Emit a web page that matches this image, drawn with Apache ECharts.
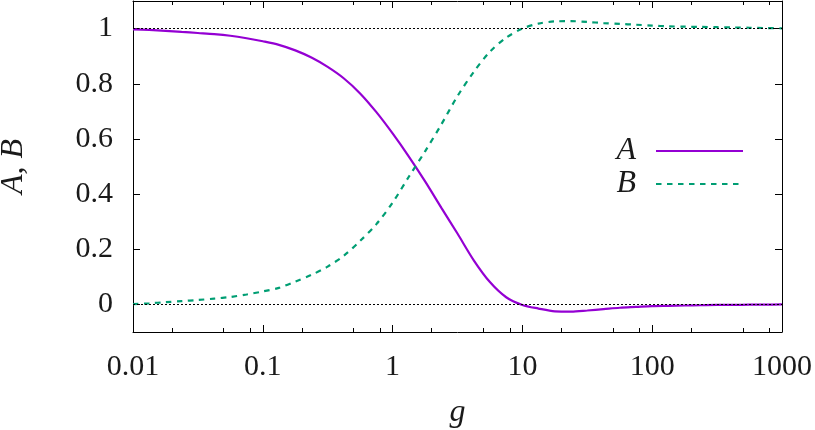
<!DOCTYPE html>
<html lang="en">

<head>
  <meta charset="UTF-8">
  <title>A, B vs g</title>
  <style>
    html,
    body {
      width: 100%;
      height: 100%;
      padding: 0;
      margin: 0;
      background: #fff;
    }

    #eChart {
      width: 815px;
      height: 430px;
    }
  </style>
</head>

<body>
  <div id="eChart"></div>

  <script src="https://cdn.jsdelivr.net/npm/echarts@6/dist/echarts.min.js"></script>
  <script>
    // values (eight samples per decade of g)
    var gVals = [0.01, 0.0133, 0.0178, 0.0237, 0.0316, 0.0422, 0.0562, 0.075,
      0.1, 0.133, 0.178, 0.237, 0.316, 0.422, 0.562, 0.75,
      1, 1.33, 1.78, 2.37, 3.16, 4.22, 5.62, 7.5,
      10, 13.3, 17.8, 23.7, 31.6, 42.2, 56.2, 75,
      100, 133, 178, 237, 316, 422, 562, 750, 1000];
    var aVals = [0.997, 0.995, 0.992, 0.988, 0.984, 0.980, 0.974, 0.965,
      0.954, 0.941, 0.921, 0.895, 0.861, 0.819, 0.765, 0.697,
      0.620, 0.537, 0.446, 0.351, 0.257, 0.160, 0.081, 0.026,
      -0.002, -0.015, -0.025, -0.026, -0.022, -0.017, -0.012, -0.009,
      -0.006, -0.005, -0.004, -0.003, -0.002, -0.002, -0.001, -0.001, 0.000];
    var bVals = [0.001, 0.004, 0.008, 0.012, 0.016, 0.021, 0.027, 0.036,
      0.047, 0.060, 0.083, 0.107, 0.137, 0.177, 0.230, 0.291,
      0.369, 0.462, 0.555, 0.652, 0.755, 0.843, 0.916, 0.967,
      1.000, 1.018, 1.026, 1.027, 1.024, 1.020, 1.017, 1.014,
      1.011, 1.008, 1.007, 1.006, 1.005, 1.004, 1.003, 1.002, 1.001];

    var xMajorTicks = [0.01, 0.1, 1, 10, 100, 1000];
    var xMinorTicks = [0.02, 0.05, 0.08, 0.2, 0.5, 0.8, 2, 5, 8, 20, 50, 80, 200, 500, 800];
    var yTicks = [0, 0.2, 0.4, 0.6, 0.8, 1];

    var font = "'Liberation Serif', 'DejaVu Serif', serif";
    var ink = '#1a1a1a';

    function pairs(ys) {
      return gVals.map(function (g, i) { return [g, ys[i]]; });
    }

    function xAxisOf(pos, ticks, len, showLine, showLabel) {
      return {
        type: 'log',
        logBase: 10,
        min: 0.01,
        max: 1000,
        position: pos,
        axisLine: { show: showLine, onZero: false, lineStyle: { color: '#000', width: 1 } },
        axisTick: { show: true, inside: true, length: len, customValues: ticks, lineStyle: { color: '#000', width: 1 } },
        axisLabel: {
          show: showLabel,
          customValues: ticks,
          margin: 20,
          fontFamily: font,
          fontSize: 30,
          color: ink,
          formatter: function (v) { return String(v); }
        },
        splitLine: { show: false },
        minorTick: { show: false }
      };
    }

    function yAxisOf(pos, showLabel) {
      return {
        type: 'value',
        min: -0.1,
        max: 1.1,
        position: pos,
        axisLine: { show: true, onZero: false, lineStyle: { color: '#000', width: 1 } },
        axisTick: { show: true, inside: true, length: 7, customValues: yTicks, lineStyle: { color: '#000', width: 1 } },
        axisLabel: {
          show: showLabel,
          customValues: yTicks,
          margin: 20,
          fontFamily: font,
          fontSize: 30,
          color: ink,
          formatter: function (v) { return String(v); }
        },
        splitLine: { show: false }
      };
    }

    var xBottom = xAxisOf('bottom', xMajorTicks, 7, true, true);
    xBottom.name = 'g';
    xBottom.nameLocation = 'middle';
    xBottom.nameGap = 65;
    xBottom.nameTextStyle = { fontFamily: font, fontStyle: 'italic', fontSize: 32, color: ink };

    var yLeft = yAxisOf('left', true);
    yLeft.name = 'A, B';
    yLeft.nameLocation = 'middle';
    yLeft.nameGap = 103;
    yLeft.nameTextStyle = { fontFamily: font, fontStyle: 'italic', fontSize: 32, color: ink };

    var myChart = echarts.init(document.getElementById('eChart'), null, { renderer: 'canvas' });

    myChart.setOption({
      animation: false,
      backgroundColor: '#fff',
      grid: { left: 133, right: 33, top: 1, bottom: 98, outerBoundsMode: 'none' },
      legend: {
        orient: 'vertical',
        right: 66,
        top: 130,
        align: 'right',
        itemWidth: 87,
        itemHeight: 14,
        itemGap: 1,
        itemStyle: { opacity: 0 },
        textStyle: { fontFamily: font, fontStyle: 'italic', fontSize: 32, lineHeight: 32, color: ink, padding: [0, 15, 0, 0] },
        data: ['A', 'B']
      },
      xAxis: [
        xBottom,
        xAxisOf('bottom', xMinorTicks, 4, false, false),
        xAxisOf('top', xMajorTicks, 7, true, false),
        xAxisOf('top', xMinorTicks, 4, false, false)
      ],
      yAxis: [
        yLeft,
        yAxisOf('right', false)
      ],
      series: [
        {
          name: 'A',
          type: 'line',
          data: pairs(aVals),
          smooth: 0.3,
          symbol: 'none',
          showSymbol: false,
          lineStyle: { color: '#9400D3', width: 2.2 },
          itemStyle: { color: '#9400D3' },
          markLine: {
            silent: true,
            symbol: 'none',
            label: { show: false },
            lineStyle: { color: '#000', width: 1, type: [2, 2] },
            data: [{ yAxis: 0 }, { yAxis: 1 }]
          },
          z: 3
        },
        {
          name: 'B',
          type: 'line',
          data: pairs(bVals),
          smooth: 0.3,
          symbol: 'none',
          showSymbol: false,
          lineStyle: { color: '#009E73', width: 2.2, type: [5.5, 5.5] },
          itemStyle: { color: '#009E73' },
          z: 3
        }
      ]
    });
  </script>
</body>

</html>
